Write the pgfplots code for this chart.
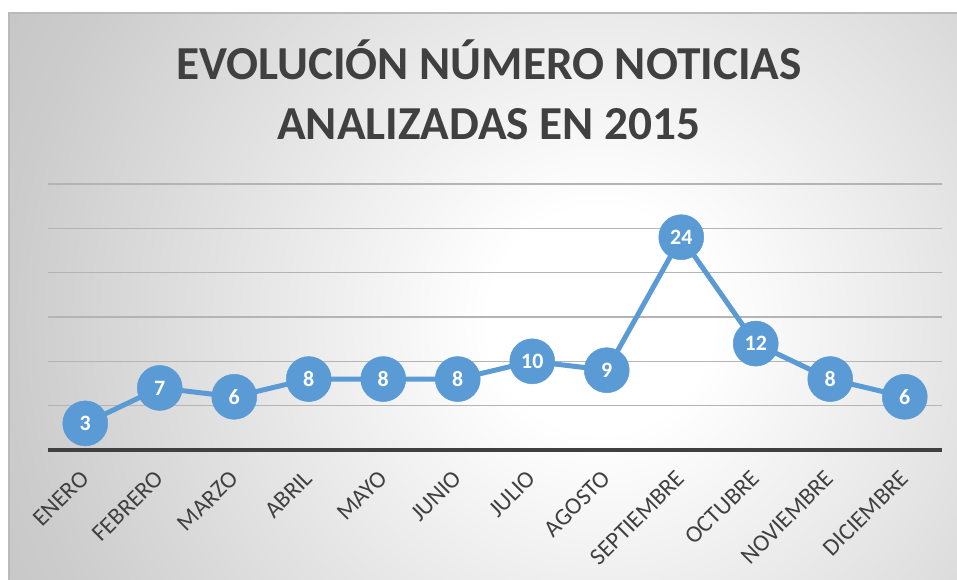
\documentclass[border=0pt]{standalone}
\usepackage{pgfplots}
\pgfplotsset{compat=1.18}
\usepackage{fontspec}
\setmainfont{Carlito}
\definecolor{lineblue}{HTML}{5B9BD5}
\definecolor{txtgray}{HTML}{404040}
\definecolor{gridgray}{HTML}{B4B4B4}
\pgfdeclareradialshading{bgshade}{\pgfpoint{0bp}{0bp}}{color(0bp)=(white); color(4bp)=(white); color(21bp)=(black!20); color(25bp)=(black!23); color(50bp)=(black!23)}
\begin{document}
\begin{tikzpicture}
\useasboundingbox (0bp,0bp) rectangle (957bp,580bp);
\fill[white] (0bp,0bp) rectangle (957bp,580bp);
\begin{scope}
\clip (9bp,0bp) rectangle (957bp,567bp);
\shade[shading=bgshade] (600bp,260bp) circle (700bp);
\end{scope}
\draw[black!27, line width=1.5bp] (9bp,-5bp) -- (9bp,567bp) -- (962bp,567bp);
\node[font=\fontsize{47.5}{56}\selectfont\bfseries, text=txtgray, anchor=base] at (489bp,500bp) {EVOLUCIÓN NÚMERO NOTICIAS};
\node[font=\fontsize{47.5}{56}\selectfont\bfseries, text=txtgray, anchor=base] at (489bp,440bp) {ANALIZADAS EN 2015};
\begin{axis}[
  at={(48bp,130bp)}, anchor=south west,
  scale only axis, width=894bp, height=266bp,
  xmin=-0.5, xmax=11.5, ymin=0, ymax=30,
  clip=false,
  axis line style={draw=none},
  major tick length=0pt,
  xtick={0,...,11},
  xticklabels={ENERO,FEBRERO,MARZO,ABRIL,MAYO,JUNIO,JULIO,AGOSTO,SEPTIEMBRE,OCTUBRE,NOVIEMBRE,DICIEMBRE},
  xticklabel style={xshift=2bp, yshift=-22bp, rotate=45, anchor=east, font=\fontsize{24}{24}\selectfont, text=txtgray},
  ytick={5,10,...,30},
  yticklabels={},
  ymajorgrids,
  grid style={gridgray, line width=1.4bp},
  extra y ticks={0},
  extra y tick labels={},
  extra y tick style={grid style={txtgray, line width=3.2bp}},
  /pgf/number format/assume math mode=true,
  nodes near coords,
  every node near coord/.append style={anchor=center, font=\fontsize{22}{22}\selectfont\bfseries, text=white},
]
\addplot[lineblue, line width=5bp, mark=*, mark size=22.5bp, mark options={fill=lineblue, draw=lineblue, line width=0.5bp}]
coordinates {(0,3) (1,7) (2,6) (3,8) (4,8) (5,8) (6,10) (7,9) (8,24) (9,12) (10,8) (11,6)};
\end{axis}
\end{tikzpicture}
\end{document}
